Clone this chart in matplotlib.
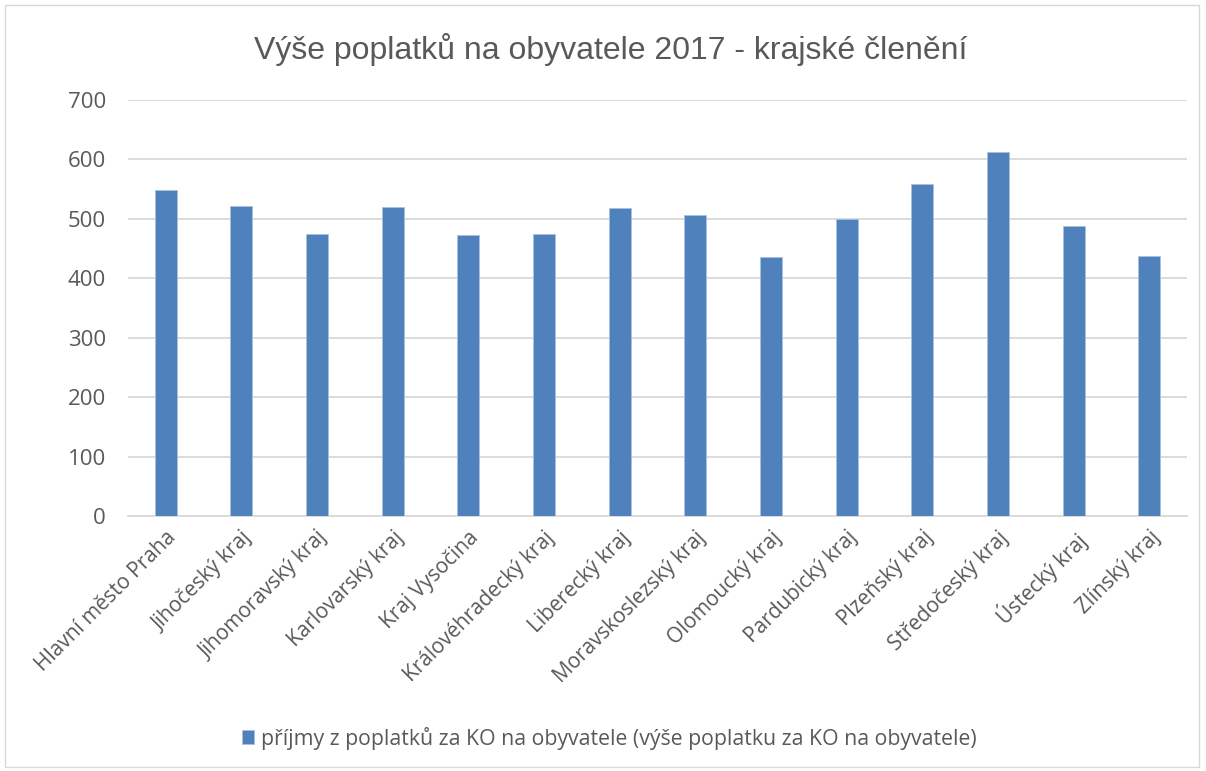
import matplotlib.pyplot as plt
from matplotlib.patches import Rectangle

kraje = ["Hlavní město Praha", "Jihočeský kraj", "Jihomoravský kraj", "Karlovarský kraj",
         "Kraj Vysočina", "Královéhradecký kraj", "Liberecký kraj", "Moravskoslezský kraj",
         "Olomoucký kraj", "Pardubický kraj", "Plzeňský kraj", "Středočeský kraj",
         "Ústecký kraj", "Zlínský kraj"]
hodnoty = [549, 522, 475, 520, 472, 474, 518, 507, 436, 499, 558, 612, 488, 438]
yticks = [0, 100, 200, 300, 400, 500, 600, 700]

plt.rcParams['font.family'] = ['Open Sans', 'DejaVu Sans']
gray = "#595959"

fig = plt.figure(figsize=(12.06, 7.71), dpi=100)
ax = fig.add_axes([128/1206, 1-516/771, 1059/1206, 416/771])

x = range(len(kraje))
ax.bar(x, hodnoty, width=0.29, color="#4f81bd", edgecolor="#a9c1e0", linewidth=0.6,
       label="příjmy z poplatků za KO na obyvatele (výše poplatku za KO na obyvatele)", zorder=3)

ax.set_xlim(-0.5, len(kraje) - 0.5)
ax.set_ylim(0, 700)
ax.set_yticks(yticks)
ax.set_yticklabels([str(v) for v in yticks], fontsize=16, color=gray)
ax.set_xticks(list(x))
ax.set_xticklabels(kraje, rotation=45, ha="right", rotation_mode="anchor", fontsize=15, color=gray)
ax.tick_params(axis="both", length=0, pad=8)
ax.tick_params(axis="y", pad=16)
ax.yaxis.grid(True, color="#d9d9d9", linewidth=1.3, zorder=0)
for s in ["top", "right", "left"]:
    ax.spines[s].set_visible(False)
ax.spines["bottom"].set_color("#d9d9d9")
ax.spines["bottom"].set_linewidth(1.3)

fig.text(611/1206, 1-50/771, "Výše poplatků na obyvatele 2017 - krajské členění",
         ha="center", va="center", fontsize=23, color=gray, family="Liberation Sans")

fig.legend(loc="center", bbox_to_anchor=(0.505, 1-738/771), frameon=False, fontsize=15.3,
           labelcolor=gray, handlelength=0.6, handleheight=0.6, handletextpad=0.3)

fig.patches.append(Rectangle((5/1206, 4/771), 1194/1206, 762/771, transform=fig.transFigure,
                             fill=False, edgecolor="#d9d9d9", linewidth=1))

fig.savefig("out.png", dpi=100)
